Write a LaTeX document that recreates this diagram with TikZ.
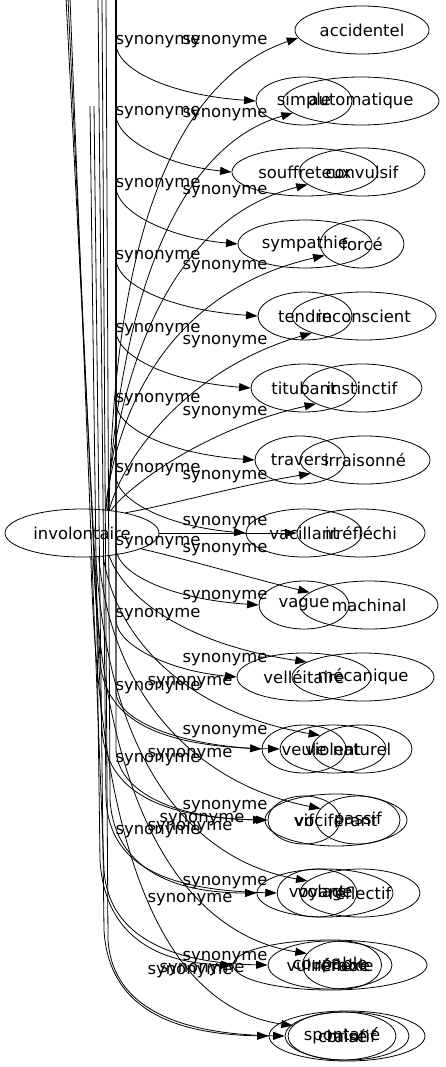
\documentclass[tikz,border=0pt]{standalone}
\usepackage{fontspec}
\setmainfont{DejaVu Sans}
\usetikzlibrary{shapes.geometric,arrows.meta}
\begin{document}
\begin{tikzpicture}[x=1pt,y=-1pt,
  nd/.style={ellipse,draw,line width=0.8pt,inner sep=0pt,minimum height=48pt,font=\fontsize{16.4}{18}\selectfont},
  edge/.style={draw,line width=0.8pt,-{Triangle[length=11.5pt,width=8pt]}},
  lab/.style={font=\fontsize{16.4}{18}\selectfont,inner sep=0pt}]
\useasboundingbox (0,0) rectangle (446,1067);
\clip (0,0) rectangle (446,1067);
% free ends of edges coming from outside the picture
\coordinate (fa) at (116,-2);
\coordinate (c1) at (66,-2);
\coordinate (c2) at (68,-2);
\coordinate (c3) at (70,-2);
\coordinate (d1) at (98,-2);
\coordinate (d2) at (102,-2);
\coordinate (d3) at (106,-2);
\coordinate (e1) at (90,106);
\coordinate (e2) at (94,106);
% nodes
\node[nd,minimum width=154pt] (inv) at (82,533) {involontaire};
\node[nd,minimum width=134pt] (acc) at (362,30) {accidentel};
\node[nd,minimum width=96pt] (simple) at (304,101) {simple};
\node[nd,minimum width=156pt] (auto) at (361,101) {automatique};
\node[nd,minimum width=146pt] (souff) at (305,172) {souffreteux};
\node[nd,minimum width=126pt] (conv) at (362,172) {convulsif};
\node[nd,minimum width=134pt] (symp) at (305,244) {sympathie};
\node[nd,minimum width=84pt] (force) at (362,244) {forcé};
\node[nd,minimum width=94pt] (tendre) at (305,316) {tendre};
\node[nd,minimum width=144pt] (incons) at (364,316) {inconscient};
\node[nd,minimum width=106pt] (titub) at (304,388) {titubant};
\node[nd,minimum width=120pt] (instinct) at (362,388) {instinctif};
\node[nd,minimum width=90pt] (travers) at (300,460) {travers};
\node[nd,minimum width=130pt] (irrais) at (365,460) {irraisonné};
\node[nd,minimum width=116pt] (vacil) at (304,533) {vacillant};
\node[nd,minimum width=128pt] (irrefl) at (361,533) {irréfléchi};
\node[nd,minimum width=90pt] (vague) at (304,605) {vague};
\node[nd,minimum width=138pt] (mach) at (369,605) {machinal};
\node[nd,minimum width=134pt] (vell) at (304,677) {velléitaire};
\node[nd,minimum width=142pt] (meca) at (363,677) {mécanique};
\node[nd,minimum width=84pt] (veule) at (304,749) {veule};
\node[nd,minimum width=106pt] (violent) at (333,749) {violent};
\node[nd,minimum width=100pt] (nat) at (362,749) {naturel};
\node[nd,minimum width=72pt] (vif) at (304,820) {vif};
\node[nd,minimum width=142pt,minimum height=52pt] (vocif) at (336,820) {vociférant};
\node[nd,minimum width=84pt] (passif) at (358,820) {passif};
\node[nd,minimum width=136pt] (volage) at (325,893) {volage};
\node[nd,minimum width=74pt] (voyant) at (317,893) {voyant};
\node[nd,minimum width=120pt] (reflc) at (360,893) {réflectif};
\node[nd,minimum width=194pt,minimum height=50pt] (vuln) at (330,965) {vulnérable};
\node[nd,minimum width=124pt] (coup) at (330,965) {coupable};
\node[nd,minimum width=76pt] (reflexe) at (342,965) {réflexe};
\node[nd,minimum width=156pt,minimum height=50pt] (craint) at (347,1036) {craintif};
\node[nd,minimum width=124pt] (brise) at (347,1036) {brisé};
\node[nd,minimum width=86pt] (spont) at (342,1036) {spontané};
% synonymes of involontaire, upper part
\draw[edge] (inv.40) .. controls (112,298) and (152,88) .. (acc.187) node[lab] at (225,42) {synonyme};
\draw[edge] (inv.42) .. controls (118,330) and (165,150) .. (auto.190) node[lab] at (225,115) {synonyme};
\draw[edge] (inv.44) .. controls (118,380) and (165,220) .. (conv.193) node[lab] at (225,192) {synonyme};
\draw[edge] (inv.45) .. controls (118,400) and (175,290) .. (force.197) node[lab] at (225,267) {synonyme};
\draw[edge] (inv.40) .. controls (122,460) and (185,370) .. (incons.198) node[lab] at (225,342) {synonyme};
\draw[edge] (inv.38) .. controls (125,490) and (200,430) .. (instinct.199) node[lab] at (225,413) {synonyme};
\draw[edge] (inv.25) .. controls (170,505) and (240,485) .. (irrais.194) node[lab] at (225,477) {synonyme};
\draw[edge] (inv.east) -- (irrefl.west) node[lab] at (225,523) {synonyme};
% synonymes of involontaire, lower part
\draw[edge] (inv.-15) .. controls (190,560) and (250,578) .. (mach.168) node[lab] at (225,550) {synonyme};
\draw[edge] (inv.-40) .. controls (125,600) and (190,645) .. (meca.165) node[lab] at (225,597) {synonyme};
\draw[edge] (inv.-48) .. controls (118,650) and (200,715) .. (nat.162) node[lab] at (225,660) {synonyme};
\draw[edge] (inv.-55) .. controls (112,700) and (200,785) .. (passif.163) node[lab] at (225,732) {synonyme};
\draw[edge] (inv.-60) .. controls (108,760) and (190,860) .. (reflc.167) node[lab] at (225,807) {synonyme};
\draw[edge] (inv.-65) .. controls (105,820) and (190,935) .. (reflexe.162) node[lab] at (225,883) {synonyme};
\draw[edge] (inv.-70) .. controls (100,890) and (180,1010) .. (spont.168) node[lab] at (225,958) {synonyme};
% edges coming from above along the trunk
\draw[edge] (fa) -- (116,45) .. controls (118,70) and (170,95) .. (simple.west) node[lab] at (158,42) {synonyme};
\draw[edge] (fa) -- (116,116) .. controls (118,141) and (170,166) .. (souff.west) node[lab] at (158,113) {synonyme};
\draw[edge] (fa) -- (116,188) .. controls (118,213) and (170,238) .. (symp.west) node[lab] at (158,185) {synonyme};
\draw[edge] (fa) -- (116,260) .. controls (118,285) and (170,310) .. (tendre.west) node[lab] at (158,257) {synonyme};
\draw[edge] (fa) -- (116,332) .. controls (118,357) and (170,382) .. (titub.west) node[lab] at (158,330) {synonyme};
\draw[edge] (fa) -- (116,404) .. controls (118,429) and (170,454) .. (travers.west) node[lab] at (158,400) {synonyme};
\draw[edge] (fa) -- (116,477) .. controls (118,502) and (170,527) .. (vacil.west) node[lab] at (158,470) {synonyme};
\draw[edge] (fa) -- (116,549) .. controls (118,574) and (170,599) .. (vague.west) node[lab] at (158,543) {synonyme};
\draw[edge] (fa) -- (116,621) .. controls (118,646) and (170,671) .. (vell.west) node[lab] at (158,615) {synonyme};
\draw[edge] (fa) -- (116,693) .. controls (118,718) and (170,743) .. (veule.west) node[lab] at (158,688) {synonyme};
\draw[edge] (fa) -- (116,750) .. controls (118,790) and (170,818) .. (vocif.west) node[lab] at (158,760) {synonyme};
\draw[edge] (c1) -- (100,660) .. controls (104,715) and (150,747) .. (violent.west) node[lab] at (190,683) {synonyme};
\draw[edge] (c2) -- (102,730) .. controls (106,785) and (150,818) .. (vif.west) node[lab] at (190,755) {synonyme};
\draw[edge] (d1) -- (106,800) .. controls (110,860) and (155,890) .. (voyant.west) node[lab] at (190,828) {synonyme};
\draw[edge] (c3) -- (104,870) .. controls (108,930) and (160,963) .. (coup.west) node[lab] at (190,900) {synonyme};
\draw[edge] (d2) -- (108,940) .. controls (112,1000) and (165,1034) .. (brise.west) node[lab] at (190,972) {synonyme};
\draw[edge] (d3) -- (110,800) .. controls (114,860) and (160,893) .. (volage.west) node[lab] at (158,832) {synonyme};
\draw[edge] (e1) -- (100,860) .. controls (104,930) and (150,963) .. (vuln.west) node[lab] at (202,820) {synonyme};
\draw[edge] (e2) -- (104,930) .. controls (108,1000) and (160,1034) .. (craint.west) node[lab] at (202,970) {synonyme};
\end{tikzpicture}
\end{document}
